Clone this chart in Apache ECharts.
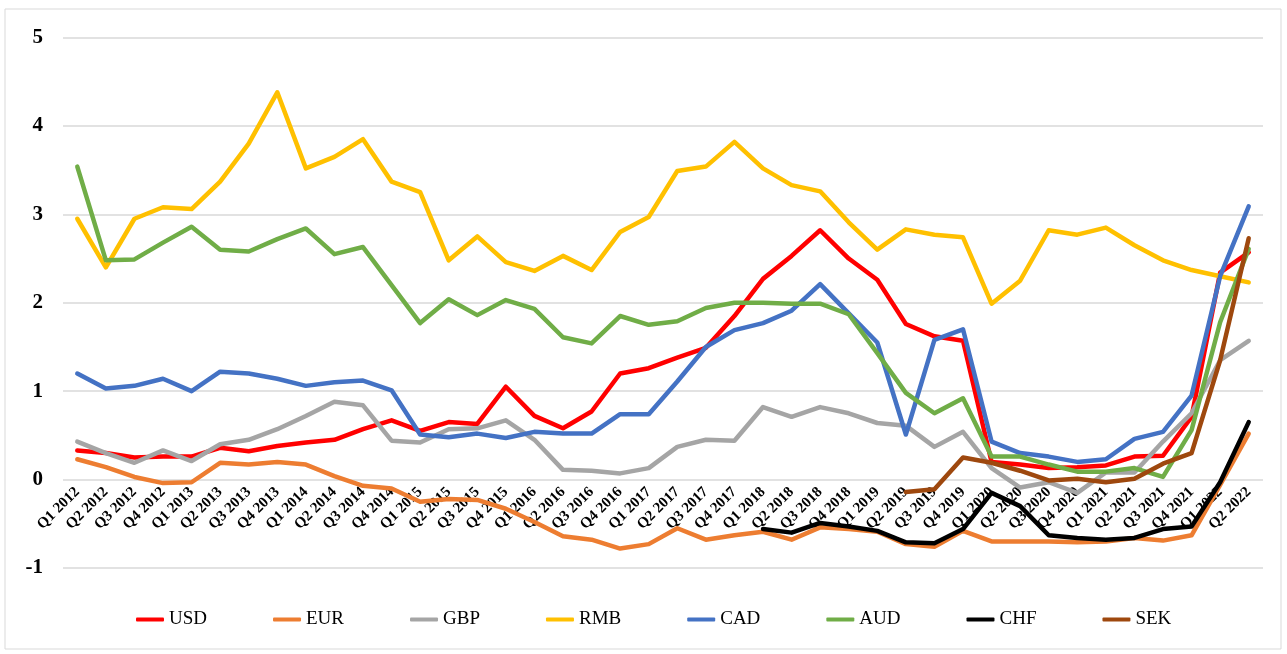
<!DOCTYPE html>
<html>
<head>
<meta charset="utf-8">
<script src="https://cdn.jsdelivr.net/npm/echarts@6/dist/echarts.min.js"></script>
<style>
  html, body { margin: 0; padding: 0; background: #fff; }
  #main { width: 1287px; height: 654px; }
</style>
</head>
<body>
<div id="main"></div>
<script>
var quarters = [];
for (var y = 2012; y <= 2022; y++) {
  for (var q = 1; q <= 4; q++) {
    if (y == 2022 && q > 2) break;
    quarters.push('Q' + q + ' ' + y);
  }
}

var usd = [0.33, 0.30, 0.25, 0.26, 0.26, 0.36, 0.32, 0.38, 0.42, 0.45, 0.57, 0.67, 0.55, 0.65, 0.63, 1.05, 0.72, 0.58, 0.77, 1.20, 1.26, 1.38, 1.49, 1.85, 2.27, 2.53, 2.82, 2.50, 2.26, 1.76, 1.62, 1.57, 0.20, 0.17, 0.13, 0.14, 0.16, 0.26, 0.27, 0.71, 2.34, 2.57];
var eur = [0.23, 0.14, 0.03, -0.04, -0.03, 0.19, 0.17, 0.20, 0.17, 0.04, -0.07, -0.10, -0.25, -0.22, -0.23, -0.33, -0.48, -0.64, -0.68, -0.78, -0.73, -0.55, -0.68, -0.63, -0.59, -0.68, -0.54, -0.56, -0.59, -0.73, -0.76, -0.58, -0.70, -0.70, -0.70, -0.71, -0.70, -0.66, -0.69, -0.63, -0.06, 0.52];
var gbp = [0.43, 0.30, 0.19, 0.33, 0.21, 0.40, 0.45, 0.57, 0.72, 0.88, 0.84, 0.44, 0.42, 0.57, 0.58, 0.67, 0.45, 0.11, 0.10, 0.07, 0.13, 0.37, 0.45, 0.44, 0.82, 0.71, 0.82, 0.75, 0.64, 0.61, 0.37, 0.54, 0.13, -0.09, -0.03, -0.15, 0.08, 0.08, 0.43, 0.75, 1.35, 1.57];
var rmb = [2.95, 2.40, 2.95, 3.08, 3.06, 3.37, 3.80, 4.38, 3.52, 3.65, 3.85, 3.37, 3.25, 2.48, 2.75, 2.46, 2.36, 2.53, 2.37, 2.80, 2.97, 3.49, 3.54, 3.82, 3.52, 3.33, 3.26, 2.91, 2.60, 2.83, 2.77, 2.74, 1.99, 2.25, 2.82, 2.77, 2.85, 2.65, 2.48, 2.37, 2.30, 2.23];
var cad = [1.20, 1.03, 1.06, 1.14, 1.00, 1.22, 1.20, 1.14, 1.06, 1.10, 1.12, 1.01, 0.51, 0.48, 0.52, 0.47, 0.54, 0.52, 0.52, 0.74, 0.74, 1.11, 1.50, 1.69, 1.77, 1.91, 2.21, 1.88, 1.55, 0.51, 1.58, 1.70, 0.43, 0.30, 0.26, 0.20, 0.23, 0.46, 0.54, 0.95, 2.30, 3.09];
var aud = [3.54, 2.48, 2.49, 2.68, 2.86, 2.60, 2.58, 2.72, 2.84, 2.55, 2.63, 2.20, 1.77, 2.04, 1.86, 2.03, 1.93, 1.61, 1.54, 1.85, 1.75, 1.79, 1.94, 2.00, 2.00, 1.99, 1.99, 1.87, 1.43, 0.98, 0.75, 0.92, 0.26, 0.26, 0.17, 0.09, 0.09, 0.13, 0.03, 0.56, 1.78, 2.61];
var chf = [null, null, null, null, null, null, null, null, null, null, null, null, null, null, null, null, null, null, null, null, null, null, null, null, -0.56, -0.60, -0.49, -0.53, -0.58, -0.71, -0.72, -0.56, -0.15, -0.30, -0.63, -0.66, -0.68, -0.66, -0.56, -0.53, -0.03, 0.65];
var sek = [null, null, null, null, null, null, null, null, null, null, null, null, null, null, null, null, null, null, null, null, null, null, null, null, null, null, null, null, null, -0.14, -0.11, 0.25, 0.19, 0.10, -0.01, 0.01, -0.03, 0.01, 0.18, 0.30, 1.35, 2.73];

var currencyNames = ['USD', 'EUR', 'GBP', 'RMB', 'CAD', 'AUD', 'CHF', 'SEK'];
var currencyData = [usd, eur, gbp, rmb, cad, aud, chf, sek];
var currencyColors = ['#FF0000', '#ED7D31', '#A5A5A5', '#FFC000', '#4472C4', '#70AD47', '#000000', '#9E480E'];

var yMin = -1, yMax = 5;
var gridTop = 37.5, gridBottom = 86;
// 横轴标签放在0刻度线下方
var zeroOffset = (654 - gridTop - gridBottom) / (yMax - yMin) * (0 - yMin);

var chart = echarts.init(document.getElementById('main'));

var seriesList = [];
for (var i = 0; i < currencyNames.length; i++) {
  seriesList.push({
    name: currencyNames[i],
    type: 'line',
    data: currencyData[i],
    symbol: 'none',
    connectNulls: false,
    lineStyle: { width: 4.5, color: currencyColors[i], join: 'round', cap: 'round' },
    itemStyle: { color: currencyColors[i] }
  });
}

var option = {
  animation: false,
  backgroundColor: '#fff',
  graphic: [{
    type: 'rect',
    shape: { x: 5, y: 9, width: 1276, height: 640 },
    style: { fill: 'none', stroke: '#d9d9d9', lineWidth: 1 },
    silent: true,
    z: -10
  }],
  grid: { left: 63, right: 24, top: gridTop, bottom: gridBottom },
  legend: {
    data: currencyNames,
    left: 131,
    top: 605,
    icon: 'roundRect',
    itemWidth: 28,
    itemHeight: 4,
    itemGap: 66,
    textStyle: { fontFamily: 'Liberation Serif', fontSize: 19, color: '#000' }
  },
  xAxis: {
    type: 'category',
    data: quarters,
    boundaryGap: true,
    offset: -zeroOffset,
    axisLine: { show: false, onZero: false },
    axisTick: { show: false },
    axisLabel: {
      interval: 0,
      rotate: 45,
      margin: 10,
      fontFamily: 'Liberation Serif',
      fontWeight: 'bold',
      fontSize: 15,
      color: '#000'
    }
  },
  yAxis: {
    type: 'value',
    min: yMin,
    max: yMax,
    interval: 1,
    axisLine: { show: false },
    axisTick: { show: false },
    splitLine: { lineStyle: { color: '#d9d9d9', width: 1.5 } },
    axisLabel: {
      margin: 20,
      fontFamily: 'Liberation Serif',
      fontWeight: 'bold',
      fontSize: 21,
      color: '#000'
    }
  },
  series: seriesList
};

chart.setOption(option);
</script>
</body>
</html>
